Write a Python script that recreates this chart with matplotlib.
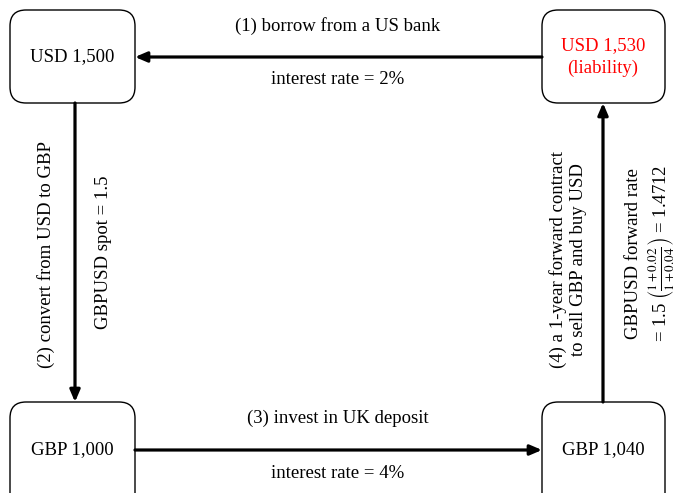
import matplotlib
matplotlib.use("Agg")
import matplotlib.pyplot as plt
from matplotlib.patches import FancyBboxPatch

plt.rcParams['font.family'] = ['Liberation Serif', 'DejaVu Serif']
plt.rcParams['mathtext.fontset'] = 'stix'

# Node labels and colours
node_labels = ["USD 1,500", "USD 1,530\n(liability)", "GBP 1,000", "GBP 1,040"]
node_colors = ["black", "red", "black", "black"]
# Edge labels
top_labels = ["(1) borrow from a US bank", "interest rate = 2%"]
bottom_labels = ["(3) invest in UK deposit", "interest rate = 4%"]
left_labels = ["(2) convert from USD to GBP", "GBPUSD spot = 1.5"]
right_labels = ["(4) a 1-year forward contract\nto sell GBP and buy USD",
                "GBPUSD forward rate",
                r"= 1.5 $\left(\frac{1+0.02}{1+0.04}\right)$ = 1.4712"]

W, H = 673, 493
fig = plt.figure(figsize=(W / 100, H / 100), dpi=100)
ax = fig.add_axes([0, 0, 1, 1])
ax.set_xlim(0, W)
ax.set_ylim(H, 0)
ax.axis('off')

# box geometry (x0, y0, w, h)
boxes = [(10, 10, 125, 93), (542, 10, 123, 93), (10, 402, 125, 110), (542, 402, 123, 110)]
centers = [(72, 57), (603, 57), (72, 450), (603, 450)]
fs = 13.5
for (x0, y0, w, h), lab, col, (cx, cy) in zip(boxes, node_labels, node_colors, centers):
    p = FancyBboxPatch((x0, y0), w, h, boxstyle="round,pad=0,rounding_size=16",
                       fc='white', ec='black', lw=1.0)
    ax.add_patch(p)
    ax.text(cx, cy, lab, ha='center', va='center', fontsize=fs, color=col,
            linespacing=1.45)

aprops = dict(arrowstyle='-|>,head_length=0.7,head_width=0.3', lw=2.3, color='black',
              shrinkA=0, shrinkB=0)
# top arrow: right -> left
ax.annotate('', xy=(135, 57), xytext=(542, 57), arrowprops=aprops)
# left arrow: top -> bottom
ax.annotate('', xy=(75, 402), xytext=(75, 103), arrowprops=aprops)
# bottom arrow: left -> right
ax.annotate('', xy=(542, 450), xytext=(135, 450), arrowprops=aprops)
# right arrow: bottom -> top
ax.annotate('', xy=(603, 103), xytext=(603, 402), arrowprops=aprops)

ax.text(338, 26, top_labels[0], ha='center', va='center', fontsize=fs)
ax.text(338, 80, top_labels[1], ha='center', va='center', fontsize=fs)
ax.text(338, 418, bottom_labels[0], ha='center', va='center', fontsize=fs)
ax.text(338, 473, bottom_labels[1], ha='center', va='center', fontsize=fs)

ax.text(46, 255, left_labels[0], ha='center', va='center', rotation=90, fontsize=fs)
ax.text(103, 252, left_labels[1], ha='center', va='center', rotation=90, fontsize=fs)

ax.text(568, 260, right_labels[0], ha='center', va='center', rotation=90, fontsize=fs,
        linespacing=1.25)
ax.text(633, 254, right_labels[1], ha='center', va='center', rotation=90, fontsize=fs)
ax.text(662, 253, right_labels[2], ha='center', va='center', rotation=90, fontsize=fs)

fig.savefig("out.png", dpi=100)
